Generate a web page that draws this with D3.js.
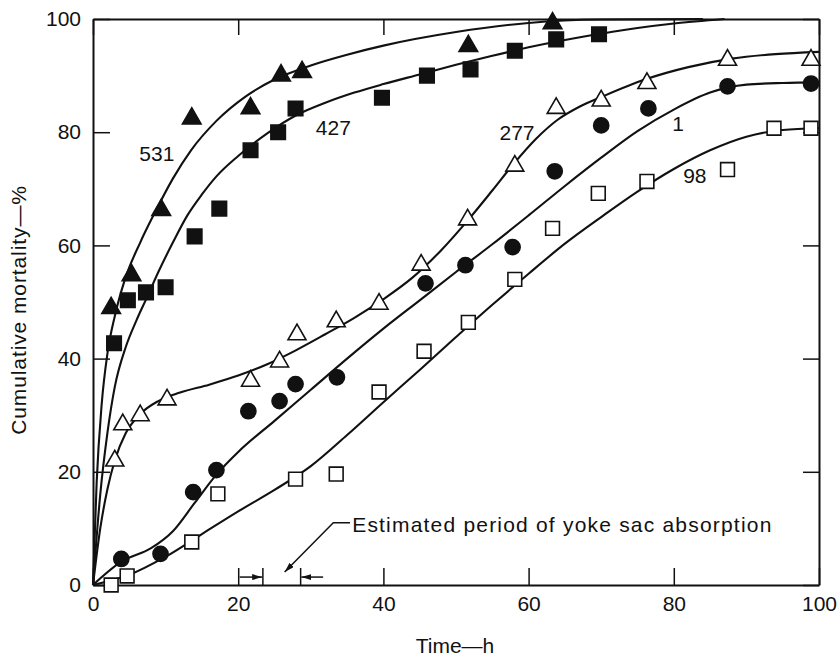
<html>
<head>
<script src="https://d3js.org/d3.v7.min.js"></script>
<style>
  body { margin: 0; background: #fff; }
  text { font-family: "Liberation Sans", Arial, sans-serif; fill: #111; }
</style>
</head>
<body>
<div id="chart"></div>
<script>
// tick values
var xTicks = [0, 20, 40, 60, 80, 100];
var yTicks = [0, 20, 40, 60, 80, 100];

// observed points [time h, cumulative mortality %]
var pts531 = [[2.5,49.4],[5.3,55.2],[9.4,66.7],[13.6,82.9],[21.7,84.7],[25.9,90.5],[28.8,91.1],[51.7,95.7],[63.3,99.7]];
var pts427 = [[2.9,42.7],[4.8,50.3],[7.3,51.7],[10,52.6],[14,61.6],[17.4,66.5],[21.7,76.8],[25.5,80],[27.9,84.2],[39.8,86.1],[46,90],[52,91.1],[58.1,94.4],[63.8,96.4],[69.7,97.3]];
var pts277 = [[3,22.4],[4.1,28.8],[6.5,30.4],[10.2,33.2],[21.7,36.5],[25.7,39.9],[28.1,44.7],[33.5,47],[39.4,50.1],[45.2,57],[51.6,65],[58.1,74.5],[63.8,84.7],[70,86],[76.3,89.1],[87.4,93.2],[98.9,93.2]];
var pts1   = [[3.9,4.6],[9.3,5.5],[13.8,16.4],[17,20.3],[21.4,30.7],[25.7,32.5],[27.9,35.5],[33.6,36.7],[45.8,53.3],[51.3,56.5],[57.8,59.7],[63.6,73.1],[70,81.2],[76.5,84.2],[87.4,88.1],[98.9,88.6]];
var pts98  = [[2.5,0],[4.7,1.6],[13.6,7.6],[17.2,16.1],[27.9,18.7],[33.5,19.6],[39.4,34.1],[45.6,41.3],[51.7,46.4],[58.1,54],[63.3,63],[69.6,69.2],[76.3,71.3],[87.4,73.4],[93.8,80.7],[98.9,80.7]];

// fitted curves
var fit531 = [[0,0],[0.5,18],[1.2,32],[2,41],[3,47.5],[4.4,54],[6.5,60.5],[8.6,66],[11,71.8],[13.5,76.8],[17,82],[21,86.3],[25,89.3],[30,91.8],[35,93.7],[40,95.3],[50,97.7],[60,99.3],[70,99.9],[84,100]];
var fit427 = [[0,0],[1,16],[2,27],[3,35],[4.5,42],[6,46.8],[7.5,51],[9,55.3],[11,60.5],[13,65.3],[15,69],[17,72.2],[20,75.8],[24,79.8],[28,83],[32,85.2],[36,87],[40,88.5],[45,90.2],[50,91.9],[55,93.5],[60,95],[65,96.3],[70,97.4],[75,98.4],[80,99.2],[87,100]];
var fit277 = [[0,0],[1,10],[2,17],[3,22],[4.5,26.8],[6.5,30.2],[9,32.5],[12,34],[16,35.4],[20,37],[24,39],[28,41.5],[32,44.3],[36,47.2],[40,50.5],[44,54.3],[48,59.2],[52,65],[55,69.7],[58,74.5],[61,78.8],[64,82.2],[67,84.5],[70,86.2],[76,89.3],[82,91.5],[88,93],[94,93.8],[100,94.2]];
var fit1   = [[0,0],[4,4.2],[8,6.5],[11,9.5],[14,14.5],[17,19.5],[20,23.5],[25,29],[30,34.5],[35,40],[40,45.3],[45,50.3],[50,55.3],[55,60.2],[60,65.3],[65,70.5],[70,75.5],[75,80.2],[80,84],[85,87],[90,88.4],[95,88.7],[100,88.8]];
var fit98  = [[0,0],[5,1.8],[10,5],[15,9],[20,13],[25,16.8],[30,21],[35,26.5],[40,32.3],[45,38],[50,43.8],[55,49.5],[60,55],[65,60.3],[70,65],[75,69.5],[80,73.5],[85,76.8],[90,79.2],[95,80.4],[100,80.7]];

var width = 840, height = 660;

var svg = d3.select("#chart").append("svg")
    .attr("width", width)
    .attr("height", height);

var x = d3.scaleLinear().domain([0, 100]).range([93, 819]);
var y = d3.scaleLinear().domain([0, 100]).range([585, 19]);

// axes: ticks point inward on all four sides
function styleAxis(g) {
    g.selectAll(".domain").attr("stroke", "#111").attr("stroke-width", 2);
    g.selectAll(".tick line").attr("stroke", "#111").attr("stroke-width", 1.5);
    g.selectAll(".tick text").attr("font-size", 21).attr("fill", "#111")
        .attr("font-family", "'Liberation Sans', Arial, sans-serif");
}

svg.append("g")
    .attr("transform", "translate(0," + y(0) + ")")
    .call(d3.axisBottom(x).tickValues(xTicks).tickSizeInner(-17).tickSizeOuter(0).tickPadding(11))
    .call(styleAxis);

svg.append("g")
    .attr("transform", "translate(0," + y(100) + ")")
    .call(d3.axisTop(x).tickValues(xTicks).tickSizeInner(-16).tickSizeOuter(0).tickFormat(""))
    .call(styleAxis);

svg.append("g")
    .attr("transform", "translate(" + x(0) + ",0)")
    .call(d3.axisLeft(y).tickValues(yTicks).tickSizeInner(-17).tickSizeOuter(0).tickPadding(12))
    .call(styleAxis);

svg.append("g")
    .attr("transform", "translate(" + x(100) + ",0)")
    .call(d3.axisRight(y).tickValues(yTicks).tickSizeInner(-16).tickSizeOuter(0).tickFormat(""))
    .call(styleAxis);

// axis titles
svg.append("text")
    .attr("x", 455).attr("y", 653)
    .attr("text-anchor", "middle")
    .attr("font-size", 21)
    .text("Time\u2014h");

svg.append("text")
    .attr("transform", "translate(26,310) rotate(-90)")
    .attr("text-anchor", "middle")
    .attr("font-size", 21)
    .attr("letter-spacing", 0.9)
    .text("Cumulative mortality\u2014%");

// curves
var line = d3.line()
    .x(function(d) { return x(d[0]); })
    .y(function(d) { return y(d[1]); })
    .curve(d3.curveMonotoneX);

[fit531, fit427, fit277, fit1, fit98].forEach(function(f) {
    svg.append("path")
        .datum(f)
        .attr("d", line)
        .attr("fill", "none")
        .attr("stroke", "#111")
        .attr("stroke-width", 2.1);
});

// point markers
var series = [
    {pts: pts531, type: d3.symbolTriangle, size: 150, fill: "#111"},
    {pts: pts427, type: d3.symbolSquare, size: 210, fill: "#111"},
    {pts: pts277, type: d3.symbolTriangle, size: 140, fill: "#fff"},
    {pts: pts1,   type: d3.symbolCircle, size: 180, fill: "#111"},
    {pts: pts98,  type: d3.symbolSquare, size: 190, fill: "#fff"}
];

series.forEach(function(s) {
    var shift = s.type === d3.symbolTriangle ? Math.sqrt(s.size / (Math.sqrt(3) * 3)) / 2 : 0;
    svg.append("g").selectAll("path")
        .data(s.pts)
        .enter()
        .append("path")
        .attr("transform", function(d) { return "translate(" + x(d[0]) + "," + (y(d[1]) + shift) + ")"; })
        .attr("d", d3.symbol().type(s.type).size(s.size))
        .attr("fill", s.fill)
        .attr("stroke", "#111")
        .attr("stroke-width", 1.6);
});

// curve labels
var curveLabels = [
    {t: "531", x: 8.8, y: 76.3},
    {t: "427", x: 33.1, y: 80.9},
    {t: "277", x: 58.4, y: 79.9},
    {t: "1",   x: 80.6, y: 81.6},
    {t: "98",  x: 82.9, y: 72.4}
];
svg.append("g").selectAll("text")
    .data(curveLabels)
    .enter()
    .append("text")
    .attr("x", function(d) { return x(d.x); })
    .attr("y", function(d) { return y(d.y); })
    .attr("dy", "0.36em")
    .attr("text-anchor", "middle")
    .attr("font-size", 21)
    .text(function(d) { return d.t; });

// annotation: yolk sac absorption period
var defs = svg.append("defs");
defs.append("marker")
    .attr("id", "ah")
    .attr("viewBox", "0 0 10 6")
    .attr("refX", 10).attr("refY", 3)
    .attr("markerWidth", 10).attr("markerHeight", 6)
    .attr("markerUnits", "userSpaceOnUse")
    .attr("orient", "auto")
    .append("path")
    .attr("d", "M0,0L10,3L0,6Z")
    .attr("fill", "#111");

svg.append("path")
    .attr("d", "M" + x(35.4) + "," + y(11) + "L" + x(33.1) + "," + y(11) + "L" + x(26.4) + "," + y(2.3))
    .attr("fill", "none")
    .attr("stroke", "#111")
    .attr("stroke-width", 1.5)
    .attr("marker-end", "url(#ah)");

svg.append("text")
    .attr("x", x(35.7)).attr("y", y(9.3))
    .attr("font-size", 21)
    .attr("letter-spacing", 1.2)
    .text("Estimated period of yoke sac absorption");

[23.4, 28.6].forEach(function(v) {
    svg.append("line")
        .attr("x1", x(v)).attr("x2", x(v))
        .attr("y1", y(0)).attr("y2", y(3))
        .attr("stroke", "#111").attr("stroke-width", 1.5);
});

[[20.2, 23.3], [31.7, 28.7]].forEach(function(a) {
    svg.append("line")
        .attr("x1", x(a[0])).attr("x2", x(a[1]))
        .attr("y1", y(1.4)).attr("y2", y(1.4))
        .attr("stroke", "#111").attr("stroke-width", 1.5)
        .attr("marker-end", "url(#ah)");
});
</script>
</body>
</html>
